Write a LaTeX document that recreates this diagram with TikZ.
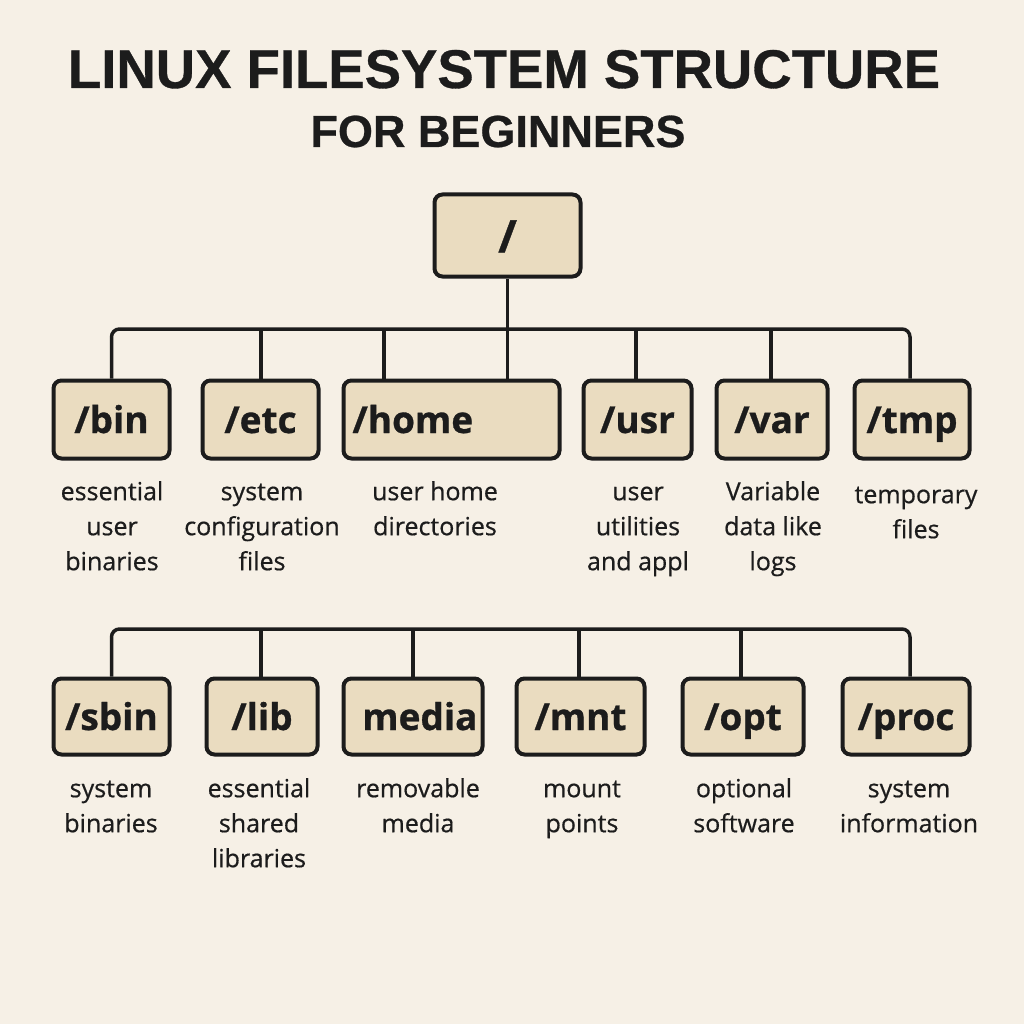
\documentclass[tikz,border=0pt]{standalone}
\usepackage{fontspec}
\setmainfont{Open Sans}[BoldFeatures={FakeBold=0.8}]
\newfontfamily\descfont{Open Sans}[FakeBold=0.6]
\newfontfamily\titlefont{Liberation Sans}[BoldFeatures={FakeBold=0.6}]
\definecolor{bg}{HTML}{F6F0E6}
\definecolor{boxfill}{HTML}{EADCC0}
\definecolor{ink}{HTML}{1C1C1C}
\begin{document}
\begin{tikzpicture}[x=1pt,y=-1pt,
  dirbox/.style={draw=ink, line width=4pt, fill=boxfill, rounded corners=8pt,
    font=\fontsize{37}{40}\selectfont\bfseries, text=ink, inner sep=0pt,
    text height=32pt, text depth=5pt, minimum height=78pt},
  desc/.style={font=\descfont\fontsize{25}{35}\selectfont, align=center, anchor=north,
    inner sep=0pt, text=ink},
  wire/.style={draw=ink, line width=3.5pt},
  bus/.style={draw=ink, line width=3.5pt, rounded corners=8pt}]
\fill[bg] (0,0) rectangle (1024,1024);
\useasboundingbox (0,0) rectangle (1024,1024);

% title
\node[anchor=base, font=\titlefont\fontsize{54.5}{60}\selectfont\bfseries, text=ink, inner sep=0pt] (title) at (504,88) {LINUX FILESYSTEM STRUCTURE};
\node[anchor=base, font=\titlefont\fontsize{45}{50}\selectfont\bfseries, text=ink, inner sep=0pt] (subtitle) at (498,147) {FOR BEGINNERS};

% root
\node[dirbox, minimum width=146pt, minimum height=82pt, font=\fontsize{45}{50}\selectfont\bfseries, text height=40pt, text depth=6pt] (root) at (507.5,235.5) {/};

% row 1
\node[dirbox, minimum width=116pt] (bin) at (111.5,419.5) {/bin};
\node[dirbox, minimum width=116pt] (etc) at (260.5,419.5) {/etc};
\node[dirbox, minimum width=216pt, text width=198pt, inner xsep=9pt, align=left] (home) at (451.5,419.5) {/home};
\node[dirbox, minimum width=108pt] (usr) at (637.5,419.5) {/usr};
\node[dirbox, minimum width=111pt] (var) at (772,419.5) {/var};
\node[dirbox, minimum width=115pt] (tmp) at (912,419.5) {/tmp};

% row 2
\node[dirbox, minimum width=116pt, minimum height=76pt] (sbin) at (111.5,716.5) {/sbin};
\node[dirbox, minimum width=111pt, minimum height=76pt] (lib) at (262,716.5) {/lib};
\node[dirbox, minimum width=139pt, minimum height=76pt, text width=129pt, inner xsep=5pt, align=right] (media) at (413,716.5) {media};
\node[dirbox, minimum width=128pt, minimum height=76pt] (mnt) at (580.5,716.5) {/mnt};
\node[dirbox, minimum width=121pt, minimum height=76pt] (opt) at (743,716.5) {/opt};
\node[dirbox, minimum width=127pt, minimum height=76pt] (proc) at (906,716.5) {/proc};

% bus coordinates
\coordinate (busA) at (0,329);
\coordinate (busB) at (0,629);
\coordinate (dEtc) at (261,329);
\coordinate (dHome) at (384,329);
\coordinate (dUsr) at (636,329);
\coordinate (dVar) at (771,329);
\coordinate (dLib) at (261,629);
\coordinate (dMedia) at (413,629);
\coordinate (dMnt) at (579,629);
\coordinate (dOpt) at (741,629);

% connectors row 1
\draw[wire] (root.south) -- (root.south |- home.north);
\draw[bus] (bin.north) -- (bin.north |- busA) -- (busA -| 910,0) -- (910,0 |- tmp.north);
\draw[wire] (dEtc) -- (dEtc |- etc.north);
\draw[wire] (dHome) -- (dHome |- home.north);
\draw[wire] (dUsr) -- (dUsr |- usr.north);
\draw[wire] (dVar) -- (dVar |- var.north);

% connectors row 2
\draw[bus] (sbin.north) -- (sbin.north |- busB) -- (busB -| 910,0) -- (910,0 |- proc.north);
\draw[wire] (dLib) -- (dLib |- lib.north);
\draw[wire] (dMedia) -- (dMedia |- media.north);
\draw[wire] (dMnt) -- (dMnt |- mnt.north);
\draw[wire] (dOpt) -- (dOpt |- opt.north);

% descriptions row 1
\node[desc] (dbin) at (112,475.5) {\strut essential\\user\\binaries};
\node[desc] (detc) at (262,475.5) {\strut system\\configuration\\files};
\node[desc] (dhome) at (435,475.5) {\strut user home\\directories};
\node[desc] (dusr) at (638,475.5) {\strut user\\utilities\\and appl};
\node[desc] (dvar) at (773,475.5) {\strut Variable\\data like\\logs};
\node[desc] (dtmp) at (916,478.5) {\strut temporary\\files};

% descriptions row 2
\node[desc] (dsbin) at (111,772.5) {\strut system\\binaries};
\node[desc] (dlib) at (259,772.5) {\strut essential\\shared\\libraries};
\node[desc] (dmedia) at (418,772.5) {\strut removable\\media};
\node[desc] (dmnt) at (582,772.5) {\strut mount\\points};
\node[desc] (dopt) at (744,772.5) {\strut optional\\software};
\node[desc] (dproc) at (909,772.5) {\strut system\\information};
\end{tikzpicture}
\end{document}
